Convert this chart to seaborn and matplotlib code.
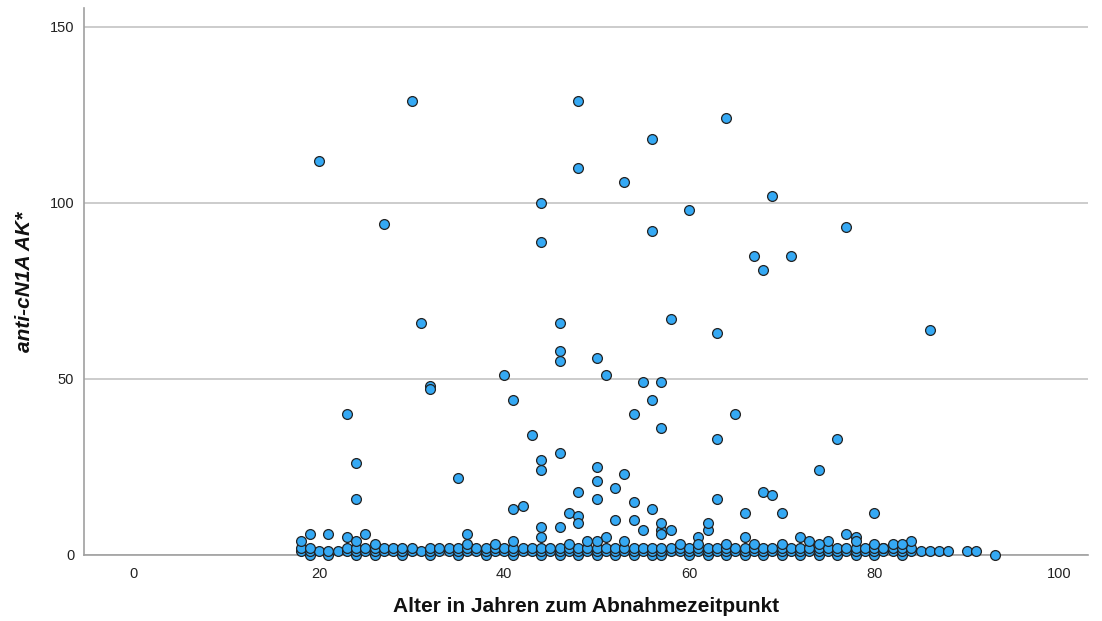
import matplotlib
matplotlib.use("Agg")
import matplotlib.pyplot as plt
import seaborn as sns
import pandas as pd

# ---- data ----
# scattered (elevated) observations: age, value
outlier_age = [20, 30, 48, 64, 56, 48, 53, 69, 44, 60, 27, 56, 77, 44, 67, 71, 68,
               31, 46, 58, 86, 63, 46, 46, 50, 32, 32, 40, 51, 55, 57, 41, 56, 23, 54, 65,
               57, 43, 63, 76, 24, 44, 44, 53, 74, 35, 46, 50, 50, 52, 48, 68, 69, 24, 50,
               63, 54, 56, 41, 42, 47, 66, 70, 80, 48, 48, 44, 46, 52, 54, 57, 62]
outlier_val = [112, 129, 129, 124, 118, 110, 106, 102, 100, 98, 94, 92, 93, 89, 85, 85, 81,
               66, 66, 67, 64, 63, 58, 55, 56, 48, 47, 51, 51, 49, 49, 44, 44, 40, 40, 40,
               36, 34, 33, 33, 26, 27, 24, 23, 24, 22, 29, 25, 21, 19, 18, 18, 17, 16, 16,
               16, 15, 13, 13, 14, 12, 12, 12, 12, 11, 9, 8, 8, 10, 10, 9, 9]

# low observations (3-7)
low_age = [19, 21, 18, 23, 24, 25, 26, 36, 36, 39, 44, 55, 57, 57, 58, 62, 66, 41, 51, 50,
           53, 61, 61, 72, 73, 75, 77, 78, 78, 82, 84, 81, 47, 49, 59, 64, 67, 70, 74, 80, 83]
low_val = [6, 6, 4, 5, 4, 6, 3, 6, 3, 3, 5, 7, 7, 6, 7, 7, 5, 4, 5, 4,
           4, 5, 3, 5, 4, 4, 6, 5, 4, 3, 4, 2, 3, 4, 3, 3, 3, 3, 3, 3, 3]

# dense base rows near zero
base_age_1 = [18, 19, 20, 21, 22, 23, 24, 25, 26, 27, 28, 29, 30, 31, 32, 33, 34, 35, 36, 37,
              38, 39, 40, 41, 42, 43, 44, 45, 46, 47, 48, 49, 50, 51, 52, 53, 54, 55, 56, 57,
              58, 59, 60, 61, 62, 63, 64, 65, 66, 67, 68, 69, 70, 71, 72, 73, 74, 75, 76, 77,
              78, 79, 80, 81, 82, 83, 84, 85, 86, 87, 88, 90, 91]
base_val_1 = [1] * 73
base_age_2 = [18, 19, 23, 24, 25, 26, 27, 28, 29, 30, 32, 33, 34, 35, 36, 37, 38, 39, 40,
              41, 42, 43, 44, 45, 46, 47, 48, 49, 50, 51, 52, 53, 54, 55, 56, 57, 58, 59, 60,
              61, 62, 63, 64, 65, 66, 67, 68, 69, 70, 71, 72, 73, 74, 75, 76, 77, 78, 79, 80,
              81, 82, 83, 84]
base_val_2 = [2] * 63
base_age_0 = [19, 21, 24, 26, 29, 32, 35, 38, 41, 44, 46, 48, 50, 52, 54, 56, 57, 60, 62,
              64, 66, 68, 70, 72, 74, 76, 78, 80, 83, 93]
base_val_0 = [0] * 30

x_ticks = [0, 20, 40, 60, 80, 100]
y_ticks = [0, 50, 100, 150]
x_label = "Alter in Jahren zum Abnahmezeitpunkt"
y_label = "anti-cN1A AK*"

df = pd.DataFrame({
    "age": base_age_0 + base_age_1 + base_age_2 + low_age + outlier_age,
    "val": base_val_0 + base_val_1 + base_val_2 + low_val + outlier_val,
})

# ---- plotting ----
sns.set_style("white")
plt.rcParams["font.family"] = ["Liberation Sans", "DejaVu Sans"]

fig = plt.figure(figsize=(11.02, 6.21), dpi=100)
ax = fig.add_axes([84 / 1102, (621 - 555) / 621, (1088 - 84) / 1102, (555 - 8) / 621])

sns.scatterplot(data=df, x="age", y="val", ax=ax, s=50, color="#35a9f4",
                edgecolor="#222222", linewidth=0.9, zorder=3, clip_on=False, legend=False)

ax.set_xlim(-5.4, 103.1)
ax.set_ylim(0, 155.3)
ax.set_xticks(x_ticks)
ax.set_yticks(y_ticks)
ax.set_xticklabels([str(t) for t in x_ticks])
ax.set_yticklabels([str(t) for t in y_ticks])
ax.tick_params(axis="both", length=0, labelsize=10.5, colors="#222222")
ax.tick_params(axis="y", pad=7)
ax.tick_params(axis="x", pad=9)

ax.yaxis.grid(True, color="#c8c8c8", linewidth=1.3, zorder=0)
ax.xaxis.grid(False)
ax.set_axisbelow(True)

for side in ["top", "right"]:
    ax.spines[side].set_visible(False)
for side in ["left", "bottom"]:
    ax.spines[side].set_color("#a0a0a0")
    ax.spines[side].set_linewidth(1.2)

ax.set_xlabel(x_label, fontsize=15, fontweight="bold", color="#111111")
ax.xaxis.label.set_verticalalignment("center")
ax.xaxis.set_label_coords(0.5, -(607 - 555) / 547)
ax.set_ylabel(y_label, fontsize=15, fontweight="bold", fontstyle="italic", color="#111111")
ax.yaxis.label.set_verticalalignment("center")
ax.yaxis.set_label_coords((25 - 84) / 1004, 0.5)

fig.savefig("out.png", dpi=100)
